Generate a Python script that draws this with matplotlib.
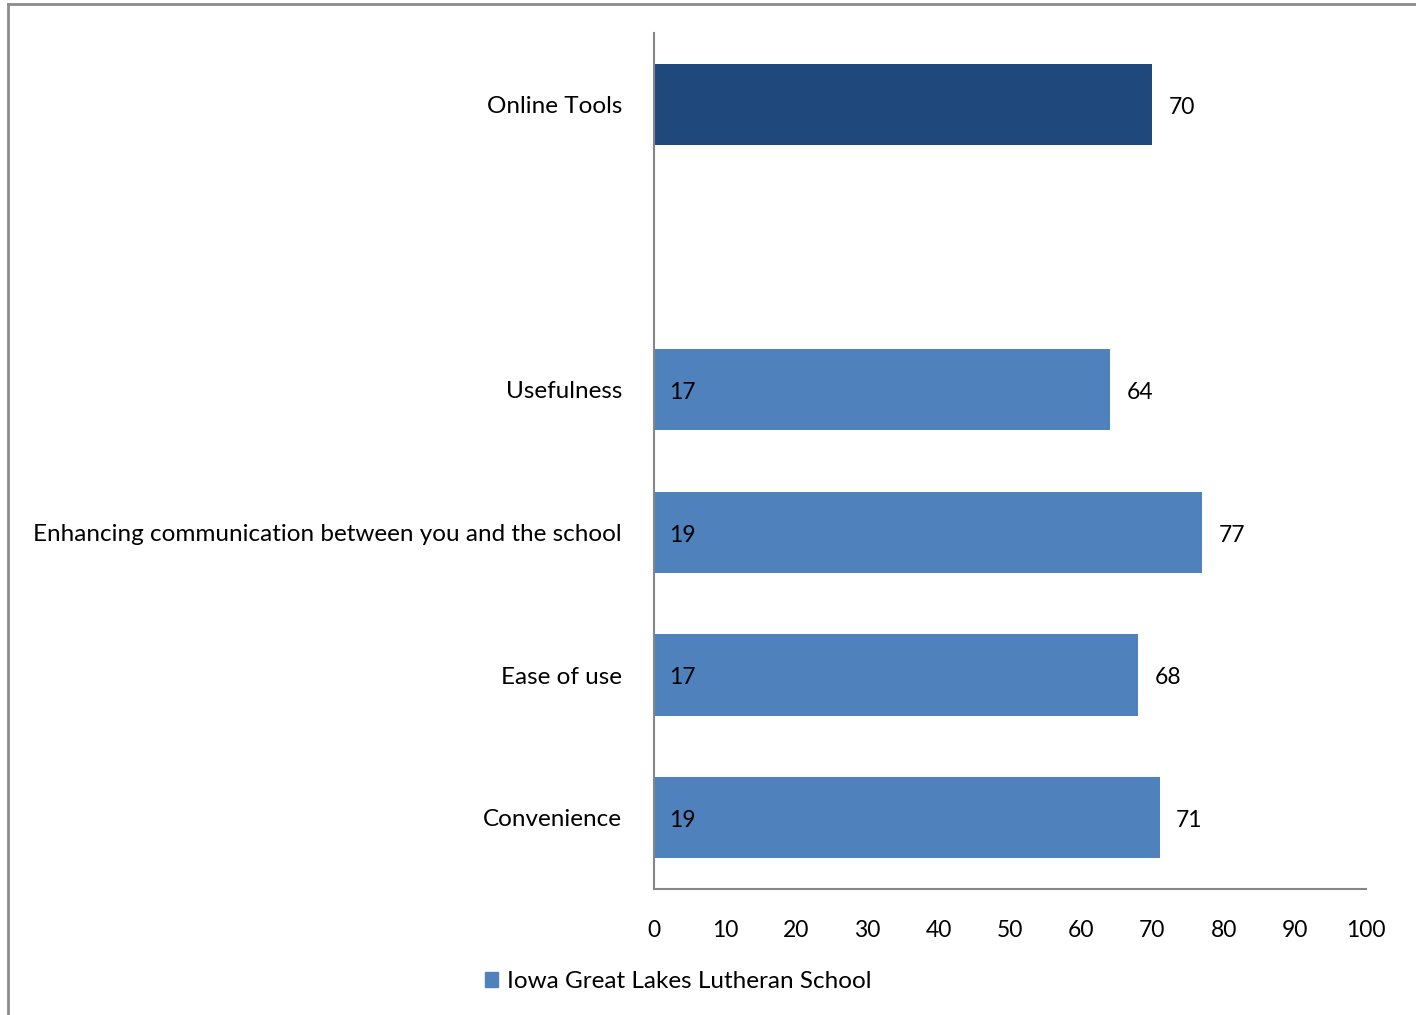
import numpy as np
import matplotlib.pyplot as plt
from matplotlib.patches import Patch
from matplotlib.lines import Line2D

plt.rcParams['font.family'] = ['Lato', 'DejaVu Sans']

# data (bottom to top)
categories = ['Convenience', 'Ease of use', 'Enhancing communication between you and the school',
              'Usefulness', '', 'Online Tools']
values = [71, 68, 77, 64, None, 70]
counts = [19, 17, 19, 17, None, None]
series_name = 'Iowa Great Lakes Lutheran School'
xticks = list(range(0, 101, 10))

light = '#4F81BD'
dark = '#1F497D'

fig = plt.figure(figsize=(14.16, 10.15), dpi=100)
ax = fig.add_axes([0.4619, 0.1241, 0.5028, 0.8434])

pos = np.arange(len(categories))
for i, (v, n) in enumerate(zip(values, counts)):
    if v is None:
        continue
    col = dark if categories[i] == 'Online Tools' else light
    ax.barh(pos[i], v, height=0.57, color=col)
    ax.annotate(str(v), (v, pos[i]), xytext=(12, -2), textcoords='offset points',
                va='center', ha='left', fontsize=16.5)
    if n is not None:
        ax.annotate(str(n), (0, pos[i]), xytext=(11, -2), textcoords='offset points',
                    va='center', ha='left', fontsize=16.5)

ax.set_xlim(0, 100)
ax.set_ylim(-0.5, 5.5)
ax.set_xticks(xticks)
ax.set_xticklabels([str(t) for t in xticks], fontsize=16.5)
ax.set_yticks(pos)
ax.set_yticklabels(categories, fontsize=17.5)
ax.tick_params(axis='both', length=0)
ax.tick_params(axis='x', pad=22)
ax.tick_params(axis='y', pad=23)
for s in ['top', 'right']:
    ax.spines[s].set_visible(False)
for s in ['left', 'bottom']:
    ax.spines[s].set_color('#868686')
    ax.spines[s].set_linewidth(1.5)

fig.legend(handles=[Patch(color=light, label=series_name)], loc='center',
           bbox_to_anchor=(0.479, 0.033), frameon=False, fontsize=17.5,
           handlelength=0.55, handleheight=0.55, handletextpad=0.35)

# outer frame
fig.add_artist(Line2D([8/1416, 1], [1 - 4/1015, 1 - 4/1015], color='#8c8c8c', lw=2))
fig.add_artist(Line2D([8/1416, 8/1416], [0, 1 - 4/1015], color='#8c8c8c', lw=2))

fig.savefig('out.png', dpi=100)
